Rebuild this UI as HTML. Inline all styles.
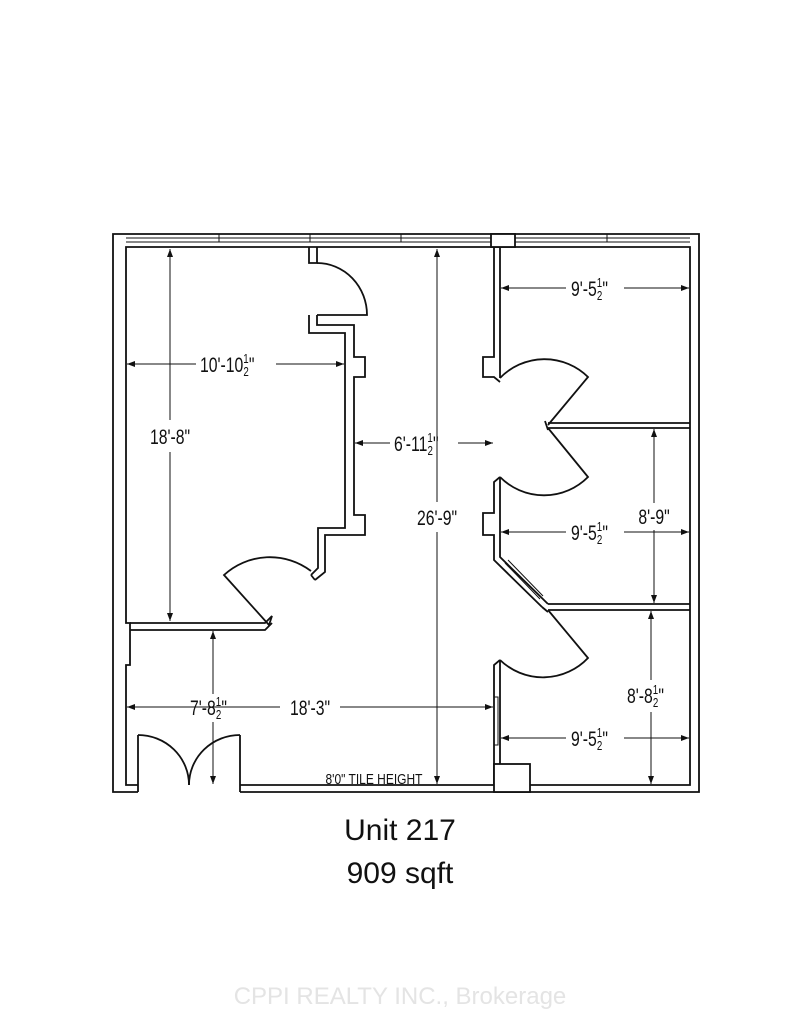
<!DOCTYPE html>
<html><head><meta charset="utf-8"><style>
html,body{margin:0;padding:0;background:#fff;width:800px;height:1035px;overflow:hidden}
svg{display:block}
.d{font-family:"Liberation Sans",sans-serif;font-size:21px;fill:#111}
</style></head><body>
<svg width="800" height="1035" viewBox="0 0 800 1035" xmlns="http://www.w3.org/2000/svg">
<defs>
<marker id="a" markerWidth="8" markerHeight="6" refX="8" refY="3" orient="auto" markerUnits="userSpaceOnUse"><path d="M0,0 L8,3 L0,6 z" fill="#111"/></marker>
</defs>
<g fill="none" stroke="#111" stroke-width="1.8">
<polyline points="138,792 113,792 113,234 699,234 699,792 240,792"/>
<polyline points="138,785 126,785 126,665 130,665 130,623 126,623 126,247 690,247 690,785 240,785"/>
<line x1="138" y1="785" x2="138" y2="792"/><line x1="240" y1="785" x2="240" y2="792"/>
<line x1="126" y1="238" x2="690" y2="238" stroke-width="1"/>
<line x1="126" y1="242" x2="690" y2="242" stroke-width="1"/>
<line x1="219" y1="234" x2="219" y2="242" stroke-width="1"/>
<line x1="310" y1="234" x2="310" y2="242" stroke-width="1"/>
<line x1="401" y1="234" x2="401" y2="242" stroke-width="1"/>
<line x1="607" y1="234" x2="607" y2="242" stroke-width="1"/>
<rect x="491" y="234" width="24" height="13" fill="#fff"/>
<polyline points="138,785 138,735"/><path d="M138,735 A51,50 0 0 1 189,785"/>
<polyline points="240,785 240,735"/><path d="M240,735 A51,50 0 0 0 189,785"/>
<polyline points="309,247 309,263 317,263 317,247"/>
<path d="M317,263 A50,52 0 0 1 367,315 L317,315"/>
<polyline points="309,315 309,333 345,333 345,528 318,528 318,568 311,575"/>
<polyline points="317,315 317,325 354,325 354,357 365,357 365,377 354,377 354,515 365,515 365,535 325,535 325,572 315,580"/>
<line x1="311" y1="575" x2="315" y2="580"/>
<path d="M311,571 A68,68 0 0 0 224,575 L269,625"/>
<polyline points="130,623 265,623 272,616 269,625"/>
<polyline points="130,630 265,630 272,623"/>
<polyline points="494,247 494,357 483,357 483,377 494,377 500,382"/>
<polyline points="500,247 500,378"/>
<path d="M500,378 A62,62 0 0 1 588,377 L548,425"/>
<polyline points="548,423 690,423"/><polyline points="548,428 690,428"/>
<line x1="545" y1="421" x2="548" y2="430"/>
<path d="M500,477 A62,62 0 0 0 588,477 L548,428"/>
<polyline points="500,477 494,482 494,513 483,513 483,535 494,535 494,560 542,607"/>
<polyline points="500,477 500,557 548,604"/>
<line x1="505" y1="563" x2="540" y2="599" stroke-width="1"/>
<line x1="508" y1="560" x2="543" y2="596" stroke-width="1"/>
<polyline points="548,604 690,604"/><polyline points="548,610 690,610"/>
<line x1="542" y1="607" x2="548" y2="612"/>
<path d="M548,610 L588,658 A62,62 0 0 1 500,660"/>
<polyline points="500,660 494,665 494,785"/><polyline points="500,660 500,764"/>
<rect x="494" y="697" width="4" height="48" stroke-width="1"/>
<rect x="494" y="764" width="36" height="28" fill="#fff"/>
</g>
<g stroke="#111" stroke-width="1" fill="none" marker-end="url(#a)">
<line x1="170" y1="420" x2="170" y2="249"/><line x1="170" y1="452" x2="170" y2="621"/>
<line x1="196" y1="364" x2="127" y2="364"/><line x1="276" y1="364" x2="344" y2="364"/>
<line x1="437" y1="502" x2="437" y2="249"/><line x1="437" y1="532" x2="437" y2="784"/>
<line x1="390" y1="443" x2="355" y2="443"/><line x1="458" y1="443" x2="493" y2="443"/>
<line x1="566" y1="288" x2="501" y2="288"/><line x1="624" y1="288" x2="689" y2="288"/>
<line x1="654" y1="503" x2="654" y2="429"/><line x1="654" y1="530" x2="654" y2="603"/>
<line x1="566" y1="532" x2="501" y2="532"/><line x1="624" y1="532" x2="689" y2="532"/>
<line x1="651" y1="680" x2="651" y2="611"/><line x1="651" y1="712" x2="651" y2="784"/>
<line x1="566" y1="738" x2="501" y2="738"/><line x1="624" y1="738" x2="689" y2="738"/>
<line x1="280" y1="707" x2="127" y2="707"/><line x1="340" y1="707" x2="493" y2="707"/>
<line x1="213" y1="694" x2="213" y2="631"/><line x1="213" y1="722" x2="213" y2="784"/>
</g>
<g class="d" text-anchor="middle">
<text x="170" y="444" transform="translate(170 0) scale(0.75 1) translate(-170 0)">18'-8"</text>
<text x="437" y="525" transform="translate(437 0) scale(0.75 1) translate(-437 0)">26'-9"</text>
<text x="654" y="524" transform="translate(654 0) scale(0.75 1) translate(-654 0)">8'-9"</text>
<text x="310" y="715" transform="translate(310 0) scale(0.75 1) translate(-310 0)">18'-3"</text>
</g>
<g class="d">
<text transform="translate(200 372) scale(0.75 1)">10'-10<tspan font-size="13" dy="-9">1</tspan><tspan font-size="13" dx="-7" dy="13">2</tspan><tspan dy="-4">"</tspan></text>
<text transform="translate(394 451) scale(0.75 1)">6'-11<tspan font-size="13" dy="-9">1</tspan><tspan font-size="13" dx="-7" dy="13">2</tspan><tspan dy="-4">"</tspan></text>
<text transform="translate(571 296) scale(0.75 1)">9'-5<tspan font-size="13" dy="-9">1</tspan><tspan font-size="13" dx="-7" dy="13">2</tspan><tspan dy="-4">"</tspan></text>
<text transform="translate(571 540) scale(0.75 1)">9'-5<tspan font-size="13" dy="-9">1</tspan><tspan font-size="13" dx="-7" dy="13">2</tspan><tspan dy="-4">"</tspan></text>
<text transform="translate(571 746) scale(0.75 1)">9'-5<tspan font-size="13" dy="-9">1</tspan><tspan font-size="13" dx="-7" dy="13">2</tspan><tspan dy="-4">"</tspan></text>
<text transform="translate(627 703) scale(0.75 1)">8'-8<tspan font-size="13" dy="-9">1</tspan><tspan font-size="13" dx="-7" dy="13">2</tspan><tspan dy="-4">"</tspan></text>
<text transform="translate(190 715) scale(0.75 1)">7'-8<tspan font-size="13" dy="-9">1</tspan><tspan font-size="13" dx="-7" dy="13">2</tspan><tspan dy="-4">"</tspan></text>
</g>
<text x="374" y="784" text-anchor="middle" font-family="Liberation Sans, sans-serif" font-size="15" fill="#111" transform="translate(374 0) scale(0.8 1) translate(-374 0)">8'0" TILE HEIGHT</text>
<text x="400" y="840" text-anchor="middle" font-family="Liberation Sans, sans-serif" font-size="30" fill="#111">Unit 217</text>
<text x="400" y="883" text-anchor="middle" font-family="Liberation Sans, sans-serif" font-size="30" fill="#111">909 sqft</text>
<text x="400" y="1004" text-anchor="middle" font-family="Liberation Sans, sans-serif" font-size="24" fill="#e4e4e4">CPPI REALTY INC., Brokerage</text>
</svg>
</body></html>
